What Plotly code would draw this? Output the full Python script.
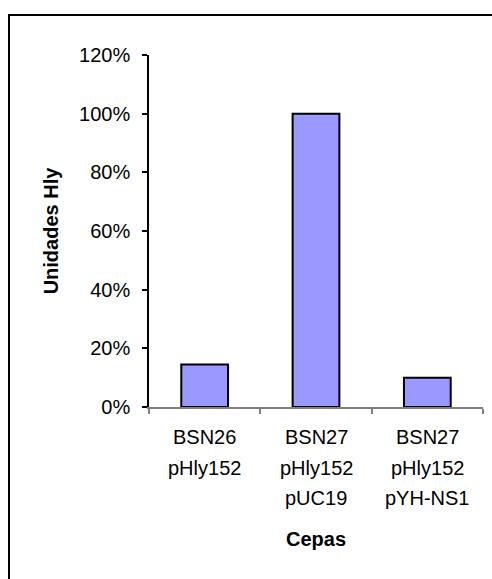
import plotly.graph_objects as go

# Strains (category lines) and relative Hly units
cepas = ["BSN26", "BSN27 pUC19", "BSN27 pYH-NS1"]
cepa_lineas = [
    ["BSN26", "pHly152"],
    ["BSN27", "pHly152", "pUC19"],
    ["BSN27", "pHly152", "pYH-NS1"],
]
unidades_hly = [0.145, 1.00, 0.10]
y_ticks = [0, 0.2, 0.4, 0.6, 0.8, 1.0, 1.2]

FONT = "Liberation Sans, Arial, sans-serif"

fig = go.Figure(
    go.Bar(
        x=cepas,
        y=unidades_hly,
        marker=dict(color="#9999FF", line=dict(color="black", width=2)),
        hoverinfo="skip",
    )
)

# multi-line category labels, one annotation per line for wider spacing
annotations = []
for cat, lineas in zip(cepas, cepa_lineas):
    for i, txt in enumerate(lineas):
        annotations.append(dict(
            x=cat, xref="x", y=0, yref="paper",
            yanchor="middle", yshift=-30 - 30.5 * i,
            text=txt, showarrow=False,
            font=dict(family=FONT, size=20, color="black"),
        ))

annotations.append(dict(
    x=0.5, xref="paper", y=0, yref="paper",
    yanchor="middle", yshift=-132,
    text="<b>Cepas</b>", showarrow=False,
    font=dict(family=FONT, size=20, color="black"),
))

fig.update_layout(
    width=492, height=579,
    margin=dict(l=149, r=9, t=55, b=172),
    paper_bgcolor="white", plot_bgcolor="white",
    showlegend=False,
    bargap=0.58,
    font=dict(family=FONT, size=20, color="black"),
    annotations=annotations,
    shapes=[dict(
        type="rect", xref="paper", yref="paper",
        x0=(9 - 149) / 334, x1=1.2,
        y0=-0.7, y1=(407 - 15) / 352,
        line=dict(color="black", width=2),
        fillcolor="rgba(0,0,0,0)", layer="below",
    )],
)

fig.update_xaxes(
    showline=True, linecolor="#808080", linewidth=2,
    ticks="outside", tickson="boundaries", ticklen=5, tickcolor="#808080",
    tickwidth=1.5, showticklabels=False, showgrid=False, zeroline=False,
)

fig.update_yaxes(
    range=[0, 1.2], tickvals=y_ticks, tickformat=".0%",
    showline=True, linecolor="black", linewidth=1.5,
    ticks="outside", ticklen=5, tickcolor="black", tickwidth=1.5,
    ticklabelstandoff=8,
    showgrid=False, zeroline=False,
    tickfont=dict(family=FONT, size=20, color="black"),
    title=dict(text="<b>Unidades Hly</b>", standoff=15,
               font=dict(family=FONT, size=20, color="black")),
)

fig.write_html("out.html")
